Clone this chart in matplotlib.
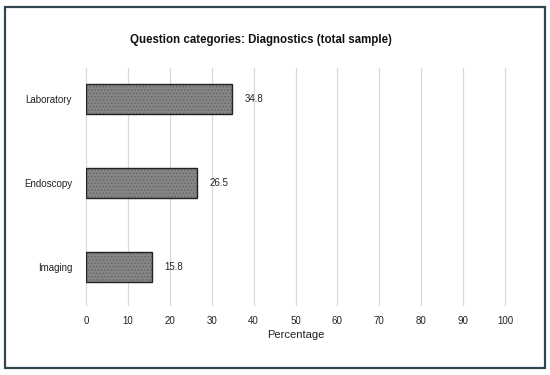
import matplotlib.pyplot as plt
from matplotlib.patches import Rectangle

categorias = ["Imaging", "Endoscopy", "Laboratory"]
valores = [15.8, 26.5, 34.8]
ticks_x = [0, 10, 20, 30, 40, 50, 60, 70, 80, 90, 100]

plt.rcParams['font.family'] = ['Liberation Sans', 'DejaVu Sans']
plt.rcParams['hatch.color'] = '#606060'
plt.rcParams['hatch.linewidth'] = 0.5

fig = plt.figure(figsize=(5.5, 3.75), dpi=100)
ax = fig.add_axes([86/550, 1 - 305/375, (505-86)/550, (305-68)/375])

pos = list(range(len(categorias)))
# relleno con trama y luego el borde negro
ax.barh(pos, valores, height=0.36, color='#858585', hatch='.....', linewidth=0, zorder=2)
ax.barh(pos, valores, height=0.36, fill=False, edgecolor='#222222', linewidth=1.0, zorder=3)

for p, v in zip(pos, valores):
    ax.text(v + 3, p, f"{v:.1f}", va='center', ha='left', fontsize=7, color='#222222')

ax.set_xlim(0, 100)
ax.set_ylim(-0.452, 2.369)
ax.set_xticks(ticks_x)
ax.set_yticks(pos)
ax.set_yticklabels(categorias)
ax.tick_params(axis='both', length=0, labelsize=7, colors='#222222')
ax.tick_params(axis='x', pad=8)
ax.tick_params(axis='y', pad=10)
for s in ax.spines.values():
    s.set_visible(False)
ax.grid(axis='x', color='#d9d9d9', linewidth=0.9, zorder=0)
ax.set_axisbelow(True)
for linea in ax.get_xgridlines():
    linea.set_clip_on(False)
ax.set_xlabel("Percentage", fontsize=8, color='#222222', labelpad=3)

fig.text(261/550, 1 - 40/375, "Question categories: Diagnostics (total sample)",
         ha='center', va='center', fontsize=8.3, fontweight='bold', color='#111111')

borde = Rectangle((5/550, 7/375), 540/550, 361/375, transform=fig.transFigure,
                  fill=False, edgecolor='#2f4550', linewidth=1.6)
fig.patches.append(borde)

fig.savefig('out.png', dpi=100)
